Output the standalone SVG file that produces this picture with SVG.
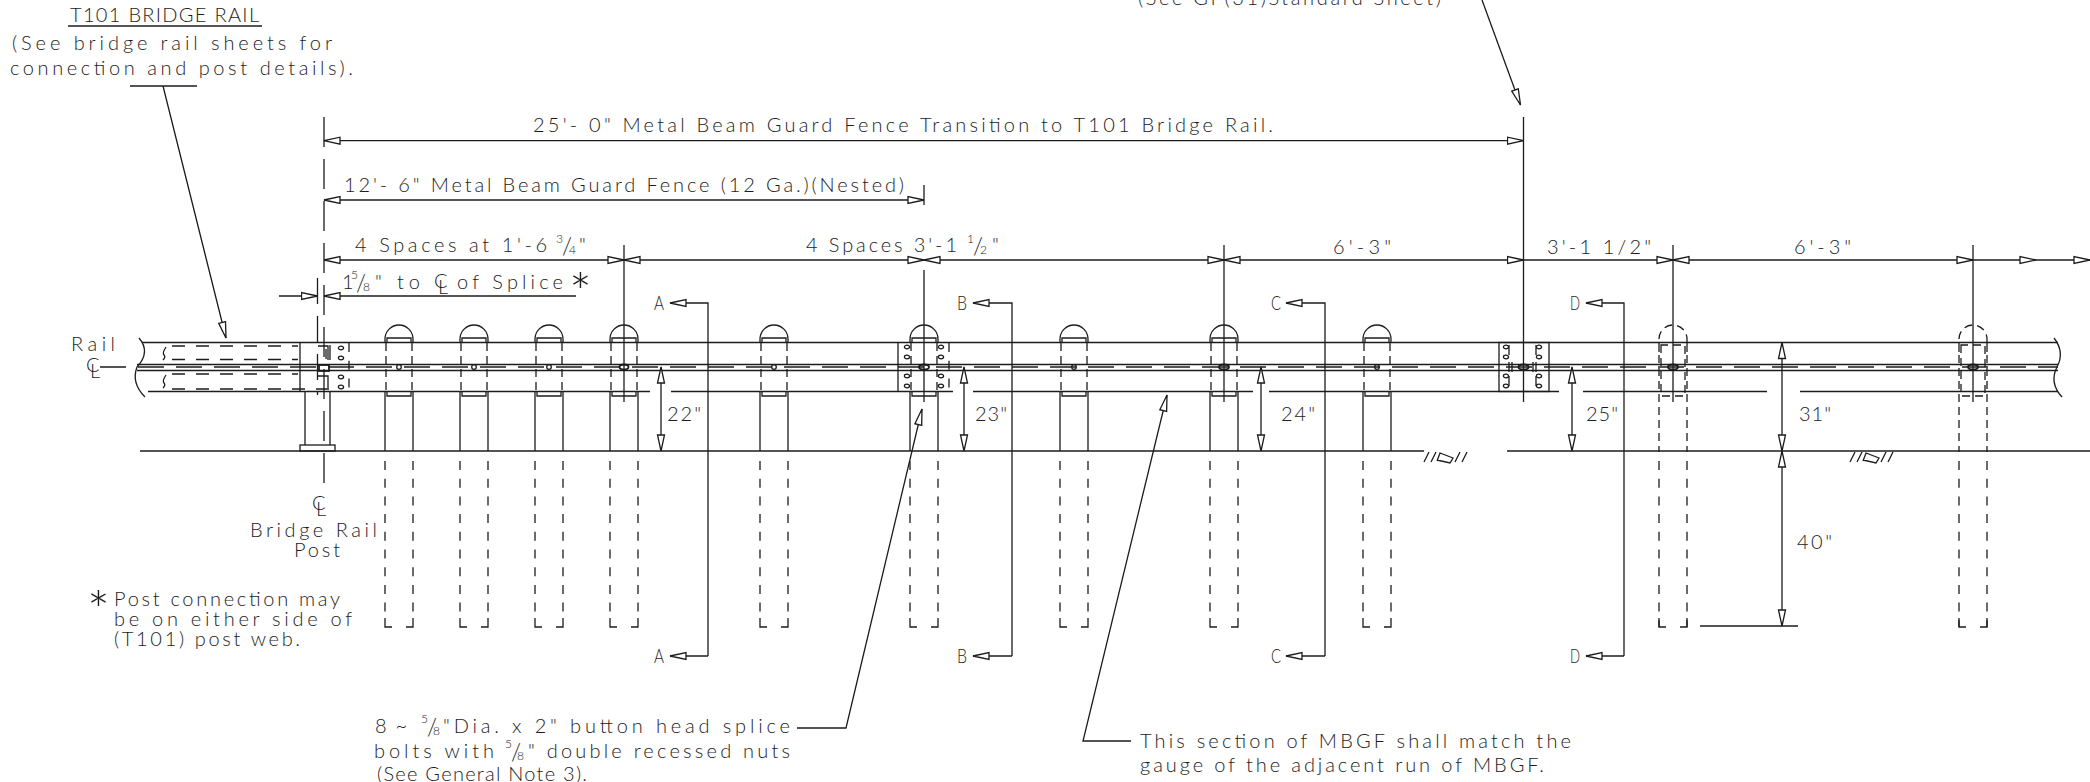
<svg xmlns="http://www.w3.org/2000/svg" width="2090" height="782" viewBox="0 0 2090 782">
<style>
text{font-family:Lato,"Liberation Sans",sans-serif;font-weight:300;font-size:20px;fill:#1c1c1c}
.f{font-size:12px}
.sl{font-size:23px}
.st{font-size:54px}
line,path,rect,ellipse,circle,polyline{fill:none;stroke:#1c1c1c;stroke-width:1.3}
.d{stroke-dasharray:9 8.7}
.m{stroke-dasharray:26 12}
.c{stroke-dasharray:30 12}
.dm{marker-start:url(#a);marker-end:url(#a)}
.de{marker-end:url(#a)}
.t{stroke-width:1.8}
.w{fill:#fff}
</style>
<defs>
<marker id="a" markerUnits="userSpaceOnUse" markerWidth="20" markerHeight="10" refX="17" refY="5" orient="auto-start-reverse"><path d="M17 5L1 1.5V8.5Z" class="w"/></marker>
<g id="cl"><text x="-6" y="0">C</text><text x="-2" y="6">L</text></g>
<g id="post">
<path d="M-14 342v-3a14 14 0 0 1 28 0v3"/>
<path d="M-12 342v-4h24v4"/>
<path class="d" d="M-13 343V391M13 343V391" style="stroke-dasharray:8 5"/>
<path d="M-12 391v5h24v-5"/>
<path d="M-14 391V451M14 391V451"/>
<path class="d" d="M-14 461V616M14 461V616"/>
<path d="M-14 618v9h7M14 618v9h-7"/>
</g>
<g id="postd">
<path class="d" style="stroke-dasharray:8 5" d="M-14 352v-13a14 14 0 0 1 28 0V352M-14 342V452M14 342V452"/>
<path class="d" style="stroke-dasharray:8 5" d="M-12 345V396h24V345Z"/>
<path class="d" d="M-14 461V627M14 461V627"/>
<path d="M-14 618v9h7M14 618v9h-7"/>
</g>
<g id="bolts"><ellipse cx="0" cy="0" rx="2.6" ry="1.8"/><ellipse cx="0" cy="10" rx="2.6" ry="1.8"/><ellipse cx="0" cy="29" rx="2.6" ry="1.8"/><ellipse cx="0" cy="39" rx="2.6" ry="1.8"/></g>
</defs>

<g id="rail">
<line x1="142" y1="342.5" x2="2058" y2="342.5"/>
<line x1="137" y1="364.5" x2="2058" y2="364.5"/>
<line x1="137" y1="370.5" x2="2058" y2="370.5"/>
<path d="M148 391.5H650M671 391.5H953M973 391.5H1253M1269 391.5H1559M1583 391.5H1767M1800 391.5H2058"/>
<line class="m" x1="100" y1="367" x2="2058" y2="367"/>
<path d="M139 338Q151 352 137 367Q131 383 145 397"/>
<path d="M2054 338Q2065 352 2057 367Q2049 383 2062 397"/>
<path class="m" d="M172 346H298M172 359.5H298M172 374H298M172 389H330" style="stroke-dasharray:13 11"/>
<path d="M166 347q-4 6-2 8t-1 5M166 375q-4 6-2 8t-1 5"/>
</g>

<g id="ground">
<path d="M140 451H1424M1507 451H2090"/>
<path d="M1424 462l5-10M1431 462l5-10M1437 461l3-8 13 5-3 5-13-3M1455 462l5-10M1462 462l5-10"/>
<path d="M1850 462l5-10M1857 462l5-10M1863 461l3-8 13 5-3 5-13-3M1881 462l5-10M1888 462l5-10"/>
</g>

<g id="bridge-post">
<path d="M305 391V445M330 391V445M300 342V391"/>
<rect x="300" y="445" width="35" height="6"/>
<rect x="319" y="365" width="10" height="6" class="t"/>
<path d="M318 346h10v14M326 349v10M330 345v15M318 376h10v12"/>
<line x1="349" y1="343" x2="349" y2="391" class="d"/>
<use href="#bolts" x="341" y="348"/>
<line class="c" x1="324" y1="117" x2="324" y2="492"/>
<line x1="317.5" y1="278" x2="317.5" y2="395" class="m"/>
</g>

<g id="posts">
<g id="p1"><use href="#post" x="399"/><circle cx="399" cy="367" r="2.3"/></g>
<g id="p2"><use href="#post" x="474"/><circle cx="474" cy="367" r="2.3"/></g>
<g id="p3"><use href="#post" x="549"/><circle cx="549" cy="367" r="2.3"/></g>
<g id="p4"><use href="#post" x="624"/><ellipse cx="624" cy="367" rx="4.5" ry="2.5" class="t"/></g>
<g id="p5"><use href="#post" x="774"/><circle cx="774" cy="367" r="2.3"/></g>
<g id="p6"><use href="#post" x="924"/><ellipse cx="924" cy="367" rx="5" ry="2.5" class="t"/></g>
<g id="p7"><use href="#post" x="1074"/><circle cx="1074" cy="367" r="2.3"/></g>
<g id="p8"><use href="#post" x="1224"/><ellipse cx="1224" cy="367" rx="5" ry="2.5" class="t"/></g>
<g id="p9"><use href="#post" x="1377"/><circle cx="1377" cy="367" r="2.3"/></g>
<g id="p10"><use href="#postd" x="1673"/><ellipse cx="1673" cy="367" rx="5" ry="2.5" class="t"/></g>
<g id="p11"><use href="#postd" x="1973"/><ellipse cx="1973" cy="367" rx="5" ry="2.5" class="t"/></g>
</g>

<g id="splice-1">
<path d="M898 342V391"/>
<line x1="949" y1="343" x2="949" y2="391" class="d"/>
<use href="#bolts" x="907" y="347"/><use href="#bolts" x="941" y="347"/>
</g>
<g id="splice-2">
<rect x="1499" y="342.5" width="50" height="49"/>
<use href="#bolts" x="1506" y="347"/><use href="#bolts" x="1539" y="347"/>
<path d="M1509 345v10M1536 345v10M1509 376v10M1536 376v10M1509 362v10M1512 362v10M1536 362v10M1533 362v10"/>
<ellipse cx="1523.5" cy="367" rx="5" ry="2.5" class="t"/>
</g>

<g id="connectors">
<line x1="624" y1="245" x2="624" y2="402"/>
<line x1="924" y1="185" x2="924" y2="205"/>
<line x1="924" y1="270" x2="924" y2="402"/>
<line x1="1224" y1="245" x2="1224" y2="402"/>
<line x1="1523.5" y1="117" x2="1523.5" y2="402"/>
<line x1="1673" y1="245" x2="1673" y2="402"/>
<line x1="1973" y1="245" x2="1973" y2="402"/>

<line class="dm" x1="324" y1="140.7" x2="1523.5" y2="140.7"/>
<line class="dm" x1="324" y1="200" x2="924" y2="200"/>
<line class="dm" x1="324" y1="260" x2="624" y2="260"/>
<line class="dm" x1="624" y1="260" x2="924" y2="260"/>
<line class="dm" x1="924" y1="260" x2="1224" y2="260"/>
<line class="dm" x1="1224" y1="260" x2="1523.5" y2="260"/>
<line class="de" x1="1523.5" y1="260" x2="1673" y2="260"/>
<line class="dm" x1="1673" y1="260" x2="1973" y2="260"/>
<line class="de" x1="1973" y1="260" x2="2036" y2="260"/>
<line class="de" x1="2036" y1="260" x2="2090" y2="260"/>
<line class="de" x1="279" y1="296" x2="317.5" y2="296"/>
<line class="de" x1="576" y1="296" x2="324" y2="296"/>

<line class="dm" x1="661" y1="367" x2="661" y2="451"/>
<line class="dm" x1="964" y1="367" x2="964" y2="451"/>
<line class="dm" x1="1261" y1="367" x2="1261" y2="451"/>
<line class="dm" x1="1572" y1="367" x2="1572" y2="451"/>
<line class="dm" x1="1782" y1="342.5" x2="1782" y2="451"/>
<line class="dm" x1="1782" y1="451" x2="1782" y2="626"/>
<line x1="1700" y1="626" x2="1798" y2="626"/>

<path class="de" d="M708 656V303H670"/>
<path class="de" d="M708 656H670"/>
<path class="de" d="M1012 656V303H973"/>
<path class="de" d="M1012 656H973"/>
<path class="de" d="M1325 656V303H1286"/>
<path class="de" d="M1325 656H1286"/>
<path class="de" d="M1624 656V303H1586"/>
<path class="de" d="M1624 656H1586"/>

<line x1="130" y1="86" x2="197" y2="86"/>
<line class="de" x1="163" y1="86" x2="226" y2="338"/>
<line class="de" x1="1482" y1="0" x2="1520.5" y2="105"/>
<path class="de" d="M797 728H846L922 409"/>
<path class="de" d="M1131 741H1083L1167 395"/>
<line x1="68" y1="26" x2="262" y2="26"/>
</g>

<g id="labels">
<text x="70" y="22" textLength="189">T101 BRIDGE RAIL</text>
<text x="12" y="50" textLength="320">(See bridge rail sheets for</text>
<text x="10" y="75" textLength="343">connection and post details).</text>
<text x="1138" y="5" textLength="303">(See GF(31)Standard Sheet)</text>
<text x="533" y="132" textLength="740">25'- 0" Metal Beam Guard Fence Transition to T101 Bridge Rail.</text>
<text x="344" y="192" textLength="560">12'- 6" Metal Beam Guard Fence (12 Ga.)(Nested)</text>
<text x="355" y="252" textLength="192">4 Spaces at 1'-6</text>
<text class="f" x="556" y="243">3</text><text x="562" y="254" class="sl">/</text><text class="f" x="569" y="254">4</text><text x="579" y="252">"</text>
<text x="806" y="252" textLength="151">4 Spaces 3'-1</text>
<text class="f" x="967" y="243">1</text><text x="973" y="254" class="sl">/</text><text class="f" x="980" y="254">2</text><text x="992" y="252">"</text>
<text x="1333" y="254" textLength="58">6'-3"</text>
<text x="1547" y="254" textLength="104">3'-1 1/2"</text>
<text x="1794" y="254" textLength="57">6'-3"</text>
<text x="342" y="289">1</text>
<text class="f" x="351" y="279">5</text><text x="356" y="291" class="sl">/</text><text class="f" x="363" y="291">8</text><text x="375" y="289">"</text>
<text x="397" y="289" textLength="23">to</text>
<use href="#cl" x="440" y="288"/>
<text x="457" y="289" textLength="106">of Splice</text>
<text class="st" x="569" y="312">*</text>
<text x="654" y="310" textLength="10" lengthAdjust="spacingAndGlyphs">A</text><text x="654" y="663" textLength="10" lengthAdjust="spacingAndGlyphs">A</text>
<text x="957" y="310" textLength="10" lengthAdjust="spacingAndGlyphs">B</text><text x="957" y="663" textLength="10" lengthAdjust="spacingAndGlyphs">B</text>
<text x="1271" y="310" textLength="10" lengthAdjust="spacingAndGlyphs">C</text><text x="1271" y="663" textLength="10" lengthAdjust="spacingAndGlyphs">C</text>
<text x="1570" y="310" textLength="10" lengthAdjust="spacingAndGlyphs">D</text><text x="1570" y="663" textLength="10" lengthAdjust="spacingAndGlyphs">D</text>
<text x="71" y="351" textLength="44">Rail</text>
<use href="#cl" x="92" y="372"/>
<text x="667" y="421" textLength="34">22"</text>
<text x="975" y="421" textLength="32">23"</text>
<text x="1281" y="421" textLength="34">24"</text>
<text x="1586" y="421" textLength="32">25"</text>
<text x="1799" y="421" textLength="32">31"</text>
<text x="1797" y="549" textLength="35">40"</text>
<use href="#cl" x="318" y="510"/>
<text x="250" y="537" textLength="127">Bridge Rail</text>
<text x="294" y="557" textLength="46">Post</text>
<text class="st" x="87" y="630">*</text>
<text x="114" y="606" textLength="226">Post connection may</text>
<text x="114" y="626" textLength="238">be on either side of</text>
<text x="114" y="646" textLength="186">(T101) post web.</text>
<text x="375" y="733" textLength="32">8 ~</text>
<text class="f" x="421" y="723">5</text><text x="427" y="735" class="sl">/</text><text class="f" x="433" y="735">8</text>
<text x="443" y="733" textLength="347">"Dia. x 2" button head splice</text>
<text x="374" y="758" textLength="120">bolts with</text>
<text class="f" x="505" y="748">5</text><text x="511" y="760" class="sl">/</text><text class="f" x="517" y="760">8</text>
<text x="528" y="758" textLength="262">" double recessed nuts</text>
<text x="377" y="781" textLength="210">(See General Note 3).</text>
<text x="1140" y="748" textLength="431">This section of MBGF shall match the</text>
<text x="1140" y="772" textLength="404">gauge of the adjacent run of MBGF.</text>
</g>
</svg>
